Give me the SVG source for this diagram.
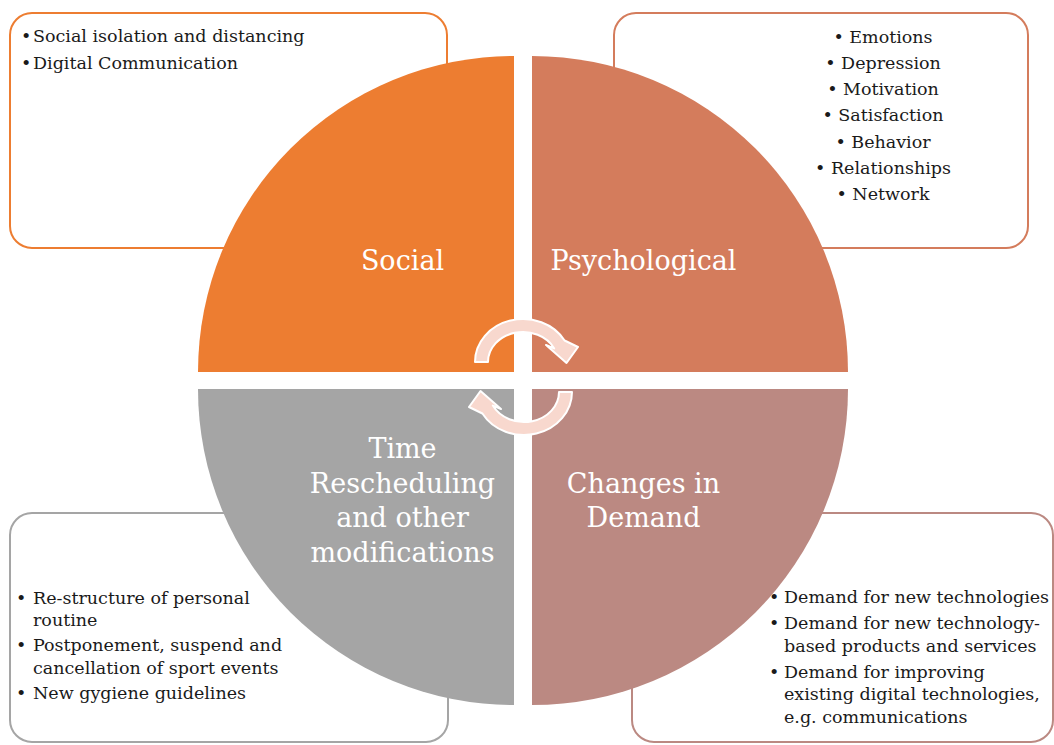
<svg xmlns="http://www.w3.org/2000/svg" width="1054" height="745" viewBox="0 0 1054 745">
  <style>
    .box { fill: #ffffff; stroke-width: 2; }
    .body { font-family: "DejaVu Serif", "Liberation Serif", serif; font-size: 17.5px; fill: #1a1a1a; }
    .label { font-family: "DejaVu Serif", "Liberation Serif", serif; font-size: 27px; fill: #ffffff; text-anchor: middle; }
    .mid { text-anchor: middle; }
    .cyc { fill: #F8D8CE; stroke: #ffffff; stroke-width: 2; stroke-linejoin: round; }
  </style>
  <defs>
    <path id="cycArrow" d="M 475,362 A 48 43 0 0 1 564.6,340.5 L 578,347 L 566.5,363 L 546,345 L 554.2,348.4 A 35 30 0 0 0 488,362 Z"/>
  </defs>
  <rect x="0" y="0" width="1054" height="745" fill="#ffffff"/>

  <g id="social">
    <rect class="box" x="10" y="13" width="437" height="235" rx="22" ry="22" stroke="#ED7D31"/>
    <path d="M 514,372 L 198,372 A 316 316 0 0 1 514,56 Z" fill="#ED7D31"/>
    <text class="body" x="21" y="42">•</text>
    <text class="body" x="33" y="42">Social isolation and distancing</text>
    <text class="body" x="21" y="68.5">•</text>
    <text class="body" x="33" y="68.5">Digital Communication</text>
    <text class="label" x="402.5" y="270">Social</text>
  </g>

  <g id="psychological">
    <rect class="box" x="614" y="13" width="414" height="235" rx="22" ry="22" stroke="#D47C5C"/>
    <path d="M 532,372 L 532,56 A 316 316 0 0 1 848,372 Z" fill="#D47C5C"/>
    <text class="body mid" x="883" y="42.5">• Emotions</text>
    <text class="body mid" x="883" y="68.8">• Depression</text>
    <text class="body mid" x="883" y="95.1">• Motivation</text>
    <text class="body mid" x="883" y="121.4">• Satisfaction</text>
    <text class="body mid" x="883" y="147.7">• Behavior</text>
    <text class="body mid" x="883" y="174">• Relationships</text>
    <text class="body mid" x="883" y="200.3">• Network</text>
    <text class="label" x="643.5" y="270">Psychological</text>
  </g>

  <g id="time">
    <rect class="box" x="10" y="513" width="438" height="229" rx="22" ry="22" stroke="#A5A5A5"/>
    <path d="M 514,389 L 514,705 A 316 316 0 0 1 198,389 Z" fill="#A5A5A5"/>
    <text class="body" x="16" y="604">•</text>
    <text class="body" x="33" y="604">Re-structure of personal</text>
    <text class="body" x="33" y="626">routine</text>
    <text class="body" x="16" y="651">•</text>
    <text class="body" x="33" y="651">Postponement, suspend and</text>
    <text class="body" x="33" y="673.5">cancellation of sport events</text>
    <text class="body" x="16" y="699">•</text>
    <text class="body" x="33" y="699">New gygiene guidelines</text>
    <text class="label" x="402.5" y="458">Time</text>
    <text class="label" x="402.5" y="492.5">Rescheduling</text>
    <text class="label" x="402.5" y="527">and other</text>
    <text class="label" x="402.5" y="561.5">modifications</text>
  </g>

  <g id="demand">
    <rect class="box" x="632" y="513" width="421" height="229" rx="22" ry="22" stroke="#BB8982"/>
    <path d="M 532,389 L 848,389 A 316 316 0 0 1 532,705 Z" fill="#BB8982"/>
    <text class="body" x="769" y="603">•</text>
    <text class="body" x="784" y="603">Demand for new technologies</text>
    <text class="body" x="769" y="629">•</text>
    <text class="body" x="784" y="629">Demand for new technology-</text>
    <text class="body" x="784" y="651.5">based products and services</text>
    <text class="body" x="769" y="677.5">•</text>
    <text class="body" x="784" y="677.5">Demand for improving</text>
    <text class="body" x="784" y="700">existing digital technologies,</text>
    <text class="body" x="784" y="722.5">e.g. communications</text>
    <text class="label" x="643.5" y="492.5">Changes in</text>
    <text class="label" x="643.5" y="527">Demand</text>
  </g>

  <g id="connectors">
    <use href="#cycArrow" class="cyc"/>
    <use href="#cycArrow" class="cyc" transform="rotate(180 523.5 377)"/>
  </g>
</svg>
